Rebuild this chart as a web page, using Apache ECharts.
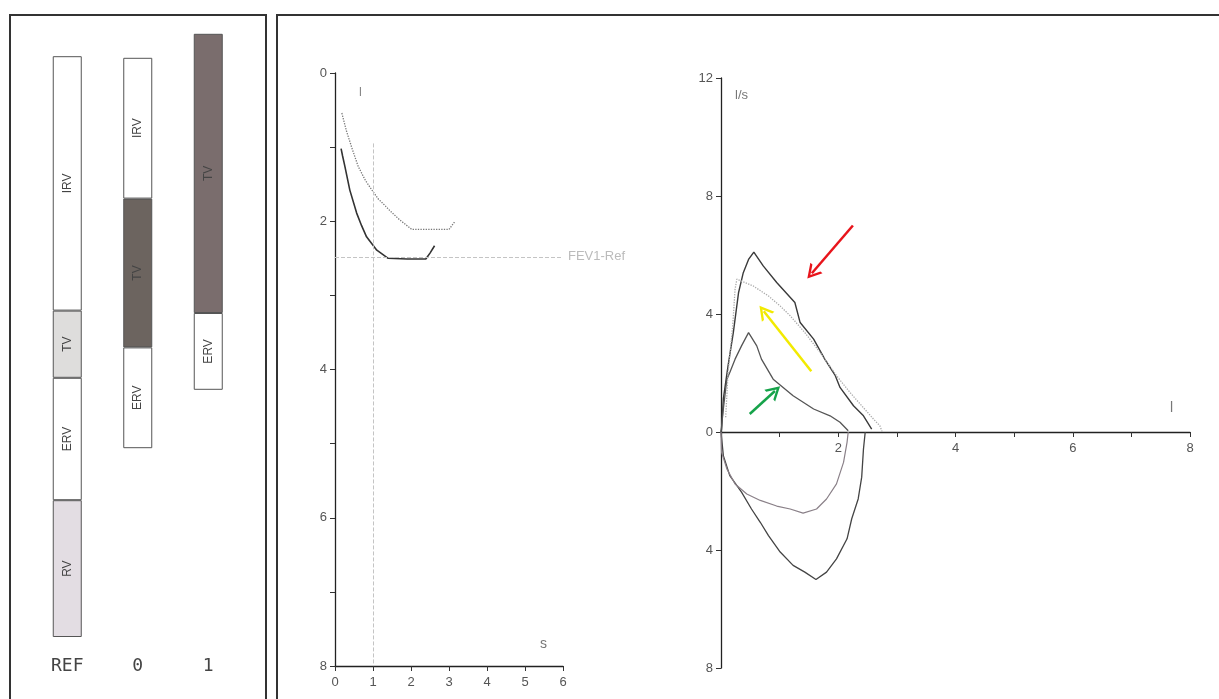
<!DOCTYPE html>
<html><head><meta charset="utf-8">
<script src="https://cdn.jsdelivr.net/npm/echarts@6/dist/echarts.min.js"></script>
<style>html,body{margin:0;padding:0;background:#fff}#c{width:1219px;height:699px}</style>
</head><body><div id="c"></div>
<script>
// ---- Lung volume bars ----
const barCategories = ['REF', '0', '1'];
const volBase = [0, 2.36, 3.09];
const volRV  = [1.71, 0, 0];
const volERV = [1.53, 1.26, 0.96];
const volTV  = [0.84, 1.86, 3.49];
const volIRV = [3.18, 1.76, 0];

// ---- Volume-time ----
const timeTicks = [0, 1, 2, 3, 4, 5, 6];
const volTimeTrial0 = [[0.18,0.54],[0.3,0.78],[0.45,1.02],[0.61,1.26],[0.8,1.45],[1.0,1.6],[1.14,1.7],[1.3,1.78],[1.45,1.86],[1.7,1.98],[2.02,2.11],[2.5,2.11],[3.0,2.11],[3.16,2.0]];
const volTimeTrial1 = [[0.16,1.02],[0.2,1.12],[0.26,1.26],[0.39,1.58],[0.57,1.89],[0.7,2.06],[0.83,2.21],[1.1,2.39],[1.4,2.5],[1.9,2.51],[2.39,2.51],[2.5,2.43],[2.62,2.33]];
const fev1Ref = 2.48;
const fev1Time = 1;

// ---- Flow-volume ----
const flowOuterExp = [[0,0],[0.01,0.1],[0.04,1.12],[0.12,2.24],[0.21,3.37],[0.30,4.73],[0.38,5.40],[0.47,5.85],[0.56,6.10],[0.72,5.63],[0.95,5.07],[1.26,4.39],[1.35,3.71],[1.58,3.15],[1.77,2.47],[1.95,1.91],[2.03,1.51],[2.26,0.89],[2.43,0.55],[2.57,0.10]];
const flowOuterInsp = [[0,0],[0.04,-0.80],[0.15,-1.48],[0.35,-2.04],[0.52,-2.61],[0.67,-3.06],[0.81,-3.51],[1.01,-4.07],[1.23,-4.52],[1.43,-4.75],[1.62,-5.0],[1.80,-4.75],[1.97,-4.30],[2.15,-3.62],[2.23,-2.94],[2.34,-2.27],[2.40,-1.53],[2.43,-0.58],[2.46,0]];
const flowInnerExp = [[0,0],[0.04,0.78],[0.10,1.79],[0.15,2.02],[0.24,2.47],[0.35,2.92],[0.47,3.37],[0.5,3.4],[0.61,2.92],[0.69,2.47],[0.89,1.79],[1.23,1.23],[1.58,0.78],[1.86,0.55],[2.03,0.33],[2.17,0.04]];
const flowInnerInsp = [[0,0],[0.01,-0.69],[0.10,-1.25],[0.24,-1.76],[0.44,-2.10],[0.67,-2.32],[0.95,-2.51],[1.18,-2.61],[1.40,-2.75],[1.63,-2.61],[1.80,-2.27],[1.97,-1.76],[2.09,-1.03],[2.15,-0.35],[2.17,0]];
const flowPredicted = [[0.08,0.5],[0.12,2.0],[0.2,3.6],[0.24,4.84],[0.27,5.18],[0.55,4.95],[0.81,4.61],[1.01,4.27],[1.18,3.94],[1.43,3.37],[1.69,2.70],[1.97,1.91],[2.20,1.34],[2.40,0.89],[2.60,0.44],[2.71,0.21],[2.75,0]];
// annotation arrows [from, to] in (volume, flow)
const arrowRed    = [[2.25,7.0],[1.55,5.38]];
const arrowYellow = [[1.54,2.06],[0.73,4.09]];
const arrowGreen  = [[0.49,0.61],[0.92,1.39]];

const chart = echarts.init(document.getElementById('c'), null, {renderer:'canvas'});
const tickFont = {color:'#555', fontFamily:'Liberation Sans, Arial, sans-serif', fontSize:13};
const axisLn = {show:true, lineStyle:{color:'#222', width:1.3}};
const tickLn = {show:true, length:5, lineStyle:{color:'#333'}};

function barColors(name){
  const m = {
    RV:  ['#e3dde3', '#fff', '#fff'],
    ERV: ['#ffffff', '#ffffff', '#ffffff'],
    TV:  ['#dedddc', '#6c645f', '#7a6d6d'],
    IRV: ['#ffffff', '#ffffff', '#ffffff']
  };
  return m[name];
}
function barSeries(name, vals){
  const cols = barColors(name);
  return {
    type:'bar', name:name, stack:'v', xAxisIndex:0, yAxisIndex:0, barWidth:29,
    data: vals.map((v,i)=>({value: v>0 ? v : '-', itemStyle:{color:cols[i]}})),
    itemStyle:{borderColor:'#555', borderWidth:1},
    label:{show:true, position:'inside', rotate:90, formatter:name,
      color:'#444', fontFamily:'Liberation Sans, Arial', fontSize:12}
  };
}
const arrowPath = 'path://M0,10 L5,0 L10,10 L8.3,10 L5,3.4 L1.7,10 Z';
function arrowItem(a, color){
  return [{coord:a[0], symbol:'none', lineStyle:{color:color, width:2.5, type:'solid'}},
          {coord:a[1], symbol:arrowPath, symbolSize:[16,14]}];
}

const option = {
  animation:false,
  backgroundColor:'#fff',
  graphic:[
    {type:'rect', shape:{x:10,y:15,width:256,height:700}, style:{fill:'none', stroke:'#333', lineWidth:2}},
    {type:'rect', shape:{x:277,y:15,width:960,height:700}, style:{fill:'none', stroke:'#333', lineWidth:2}},
    {type:'text', left:359, top:86, style:{text:'l', fill:'#888', font:'13px Liberation Sans'}},
    {type:'text', left:540, top:637, style:{text:'s', fill:'#777', font:'14px Liberation Sans'}},
    {type:'text', left:735, top:89, style:{text:'l/s', fill:'#777', font:'13px Liberation Sans'}},
    {type:'text', left:1170, top:401, style:{text:'l', fill:'#777', font:'14px Liberation Sans'}}
  ],
  grid:[
    {left:32, top:29, width:211.5, height:608},
    {left:335, top:73, width:228, height:593},
    {left:721, top:78, width:469, height:590}
  ],
  xAxis:[
    {type:'category', gridIndex:0, data:barCategories, axisLine:{show:false}, axisTick:{show:false},
     axisLabel:{margin:20, color:'#444', fontFamily:'DejaVu Sans Mono, Liberation Mono, monospace', fontSize:18}},
    {type:'value', gridIndex:1, min:0, max:6, interval:1, axisLine:{show:true, onZero:false, lineStyle:{color:'#222', width:1.3}},
     axisTick:tickLn, splitLine:{show:false}, axisLabel:Object.assign({margin:10}, tickFont)},
    {type:'value', gridIndex:2, min:0, max:8, interval:1, position:'bottom', offset:-236,
     axisLine:{show:true, onZero:false, lineStyle:{color:'#222', width:1.3}},
     axisTick:tickLn, splitLine:{show:false},
     axisLabel:Object.assign({margin:10, formatter:v=> (v>0 && v%2===0) ? String(v) : ''}, tickFont)}
  ],
  yAxis:[
    {type:'value', gridIndex:0, min:0, max:7.6, show:false},
    {type:'value', gridIndex:1, min:0, max:8, interval:1, inverse:true, axisLine:axisLn, axisTick:tickLn,
     splitLine:{show:false}, axisLabel:Object.assign({margin:8, formatter:v=> v%2===0 ? String(v) : ''}, tickFont)},
    {type:'value', gridIndex:2, min:-8, max:12, interval:4, axisLine:axisLn, axisTick:tickLn,
     splitLine:{show:false}, axisLabel:Object.assign({margin:8, formatter:v=> String(Math.abs(v))}, tickFont)}
  ],
  series:[
    {type:'bar', name:'base', stack:'v', xAxisIndex:0, yAxisIndex:0, barWidth:29,
     data:volBase, itemStyle:{color:'transparent'}, silent:true},
    barSeries('RV', volRV),
    barSeries('ERV', volERV),
    barSeries('TV', volTV),
    barSeries('IRV', volIRV),
    {type:'line', xAxisIndex:1, yAxisIndex:1, data:volTimeTrial0, showSymbol:false,
     lineStyle:{color:'#777', width:1.3, type:'dotted'},
     markLine:{silent:true, symbol:'none',
       label:{show:true, position:'end', formatter:'FEV1-Ref', color:'#bbb', fontSize:13, fontFamily:'Liberation Sans'},
       lineStyle:{color:'#c4c4c4', type:'dashed', width:1},
       data:[{yAxis:fev1Ref}]}},
    {type:'line', xAxisIndex:1, yAxisIndex:1, data:volTimeTrial1, showSymbol:false,
     lineStyle:{color:'#333', width:1.6},
     markLine:{silent:true, symbol:'none', label:{show:false},
       lineStyle:{color:'#c4c4c4', type:'dashed', width:1},
       data:[[{coord:[fev1Time,0.95]},{coord:[fev1Time,8]}]]}},
    {type:'line', xAxisIndex:2, yAxisIndex:2, data:flowOuterExp, showSymbol:false, lineStyle:{color:'#3a3a3a', width:1.4}},
    {type:'line', xAxisIndex:2, yAxisIndex:2, data:flowOuterInsp, showSymbol:false, lineStyle:{color:'#444', width:1.3}},
    {type:'line', xAxisIndex:2, yAxisIndex:2, data:flowInnerExp, showSymbol:false, lineStyle:{color:'#555', width:1.3}},
    {type:'line', xAxisIndex:2, yAxisIndex:2, data:flowInnerInsp, showSymbol:false, lineStyle:{color:'#8a8088', width:1.2}},
    {type:'line', xAxisIndex:2, yAxisIndex:2, data:flowPredicted, showSymbol:false, lineStyle:{color:'#aaa', width:1.3, type:'dotted'},
     markLine:{silent:true, label:{show:false},
       data:[arrowItem(arrowRed,'#e8141b'), arrowItem(arrowYellow,'#f2ea00'), arrowItem(arrowGreen,'#16a34a')]}}
  ]
};
chart.setOption(option);
</script>
</body></html>
